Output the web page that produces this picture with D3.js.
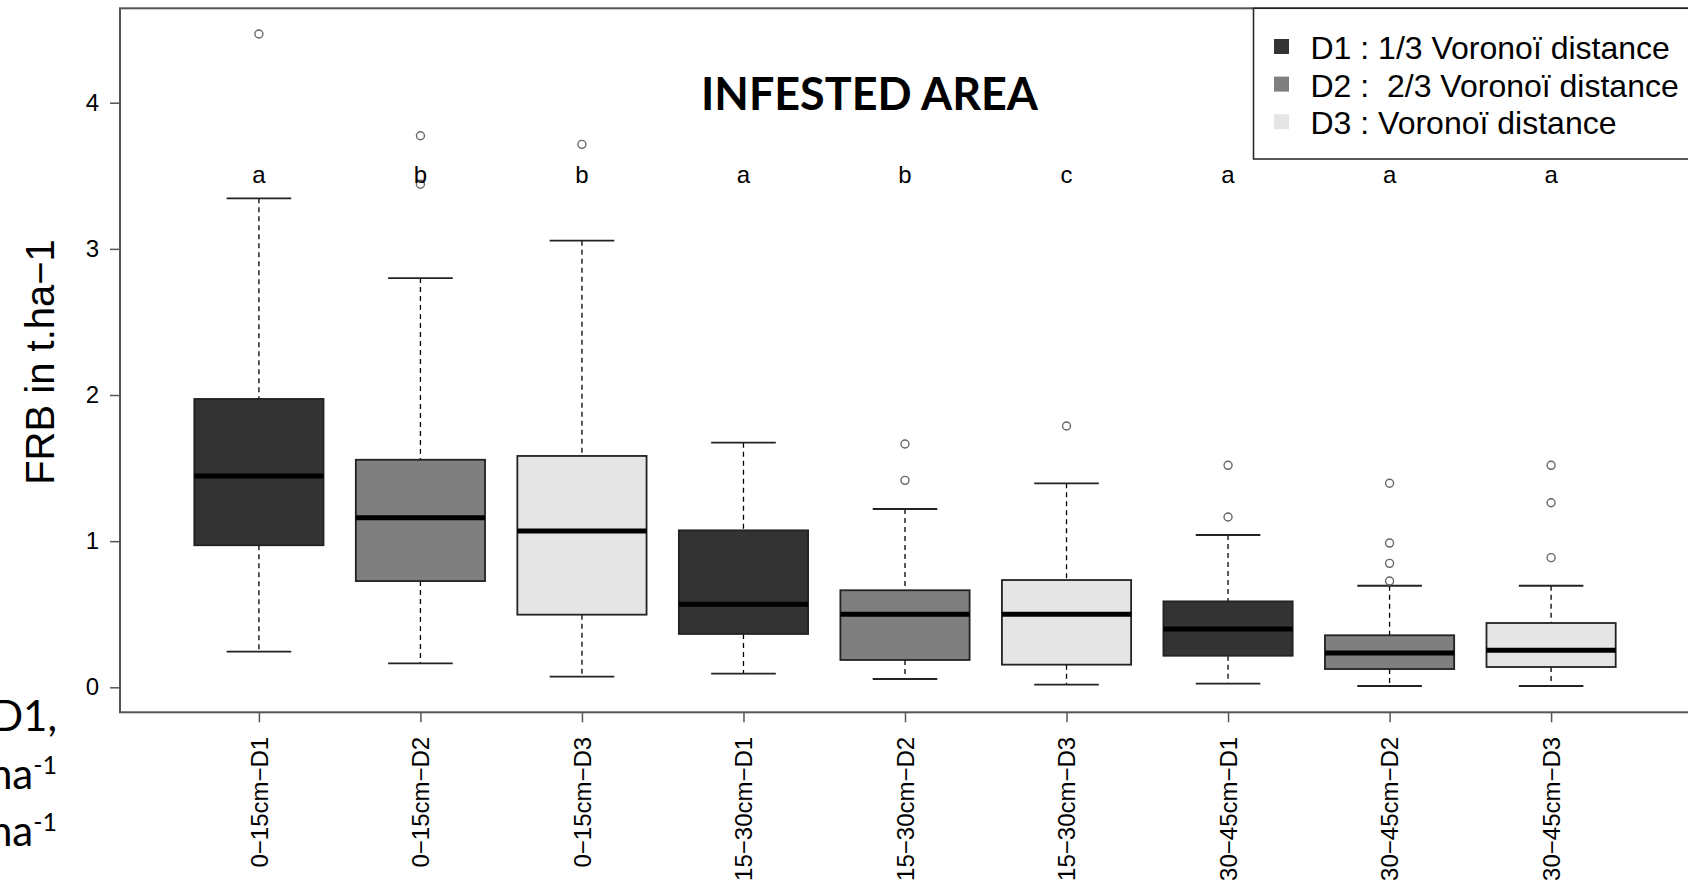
<!DOCTYPE html>
<html>
<head>
<meta charset="utf-8">
<script src="https://cdn.jsdelivr.net/npm/d3@7"></script>
<style>
  html, body { margin: 0; padding: 0; background: #fff; overflow: hidden; }
  svg { display: block; }
</style>
</head>
<body>
<svg id="chart" width="1688" height="881"></svg>
<script>
// box plot values (t.ha-1)
const categories = ["0−15cm−D1", "0−15cm−D2", "0−15cm−D3",
                    "15−30cm−D1", "15−30cm−D2", "15−30cm−D3",
                    "30−45cm−D1", "30−45cm−D2", "30−45cm−D3"];
const distance = ["D1", "D2", "D3", "D1", "D2", "D3", "D1", "D2", "D3"];
const whiskerLow  = [0.244, 0.164, 0.073, 0.093, 0.057, 0.018, 0.025, 0.009, 0.009];
const q1          = [0.972, 0.727, 0.497, 0.365, 0.187, 0.155, 0.216, 0.125, 0.139];
const medians     = [1.446, 1.161, 1.069, 0.568, 0.500, 0.500, 0.399, 0.235, 0.253];
const q3          = [1.973, 1.557, 1.583, 1.074, 0.664, 0.734, 0.588, 0.356, 0.440];
const whiskerHigh = [3.346, 2.800, 3.056, 1.674, 1.220, 1.396, 1.042, 0.695, 0.695];
const outliers = [
    [4.47], [3.774, 3.442], [3.715], [],
    [1.665, 1.416], [1.788], [1.519, 1.165],
    [1.396, 0.987, 0.848, 0.727], [1.519, 1.263, 0.887]
];
const letters = ["a", "b", "b", "a", "b", "c", "a", "a", "a"];
const yTicks = [0, 1, 2, 3, 4];

const legendLabels = ["D1 : 1/3 Voronoï distance", "D2 :  2/3 Voronoï distance", "D3 : Voronoï distance"];
const fills = {"D1": "#333333", "D2": "#7f7f7f", "D3": "#e5e5e5"};

const svg = d3.select("#chart");
const fontR = "'Liberation Sans', Arial, sans-serif";

// plot region (R style: the frame runs a little past the right edge)
const plotLeft = 120, plotRight = 1690, plotTop = 8.3, plotBottom = 712.3;

const x = d3.scaleLinear().domain([0.14, 9.86]).range([plotLeft, plotRight]);
const y = d3.scaleLinear().domain([-0.171, 4.646]).range([plotBottom, plotTop]);

const unit = x(2) - x(1);
const boxW = 0.8 * unit;
const capW = 0.4 * unit;

// text from the slide behind the chart, mostly hidden
const side = svg.append("g")
    .style("font-family", "Lato, 'Open Sans', sans-serif")
    .style("font-size", "42px")
    .attr("fill", "#000");
side.append("text").attr("x", 57).attr("y", 731).attr("text-anchor", "end").text("D1,");
[789, 846].forEach(function(by) {
    const t = side.append("text").attr("x", 57).attr("y", by).attr("text-anchor", "end");
    t.append("tspan").text("ha");
    t.append("tspan").attr("dy", -15).style("font-size", "25px").text("-1");
});

// white background of the chart image
svg.append("rect")
    .attr("x", 62).attr("y", 0)
    .attr("width", 1688 - 62).attr("height", 881)
    .attr("fill", "#fff");

// axes
const yAxis = svg.append("g")
    .attr("transform", "translate(" + plotLeft + ",0)")
    .call(d3.axisLeft(y).tickValues(yTicks).tickSize(10).tickPadding(11).tickFormat(d3.format("d")));
yAxis.select(".domain").remove();
yAxis.selectAll("line").attr("stroke", "#555").attr("stroke-width", 1.5);
yAxis.selectAll("text").style("font-family", fontR).style("font-size", "24px").attr("fill", "#000");

const xAxis = svg.append("g")
    .attr("transform", "translate(0," + plotBottom + ")")
    .call(d3.axisBottom(x).tickValues(d3.range(1, categories.length + 1)).tickSize(10)
        .tickFormat(function(d) { return categories[d - 1]; }));
xAxis.select(".domain").remove();
xAxis.selectAll("line").attr("stroke", "#555").attr("stroke-width", 1.5);
xAxis.selectAll("text")
    .attr("transform", "rotate(-90)")
    .attr("x", -24.5)
    .attr("y", 0)
    .attr("dy", "0.35em")
    .style("text-anchor", "end")
    .style("font-family", fontR)
    .style("font-size", "24px")
    .attr("fill", "#000");

// boxes
const boxes = svg.append("g").selectAll("g")
    .data(categories)
    .join("g");

boxes.append("line")
    .attr("x1", (d, i) => x(i + 1)).attr("x2", (d, i) => x(i + 1))
    .attr("y1", (d, i) => y(whiskerHigh[i])).attr("y2", (d, i) => y(q3[i]))
    .attr("stroke", "#000").attr("stroke-width", 1.3).attr("stroke-dasharray", "5,4");
boxes.append("line")
    .attr("x1", (d, i) => x(i + 1)).attr("x2", (d, i) => x(i + 1))
    .attr("y1", (d, i) => y(q1[i])).attr("y2", (d, i) => y(whiskerLow[i]))
    .attr("stroke", "#000").attr("stroke-width", 1.3).attr("stroke-dasharray", "5,4");

[whiskerHigh, whiskerLow].forEach(function(arr) {
    boxes.append("line")
        .attr("x1", (d, i) => x(i + 1) - capW / 2).attr("x2", (d, i) => x(i + 1) + capW / 2)
        .attr("y1", (d, i) => y(arr[i])).attr("y2", (d, i) => y(arr[i]))
        .attr("stroke", "#222").attr("stroke-width", 1.8);
});

boxes.append("rect")
    .attr("x", (d, i) => x(i + 1) - boxW / 2)
    .attr("width", boxW)
    .attr("y", (d, i) => y(q3[i]))
    .attr("height", (d, i) => y(q1[i]) - y(q3[i]))
    .attr("fill", (d, i) => fills[distance[i]])
    .attr("stroke", "#222").attr("stroke-width", 1.8);

boxes.append("line")
    .attr("x1", (d, i) => x(i + 1) - boxW / 2).attr("x2", (d, i) => x(i + 1) + boxW / 2)
    .attr("y1", (d, i) => y(medians[i])).attr("y2", (d, i) => y(medians[i]))
    .attr("stroke", "#000").attr("stroke-width", 5);

boxes.each(function(d, i) {
    d3.select(this).selectAll("circle")
        .data(outliers[i])
        .join("circle")
        .attr("cx", x(i + 1))
        .attr("cy", v => y(v))
        .attr("r", 4)
        .attr("fill", "none")
        .attr("stroke", "#666")
        .attr("stroke-width", 1.4);
});

// significance letters
svg.append("g").selectAll("text")
    .data(letters)
    .join("text")
    .attr("x", (d, i) => x(i + 1))
    .attr("y", 183)
    .attr("text-anchor", "middle")
    .style("font-family", fontR)
    .style("font-size", "24px")
    .text(d => d);

// frame
svg.append("rect")
    .attr("x", plotLeft).attr("y", plotTop)
    .attr("width", plotRight - plotLeft).attr("height", plotBottom - plotTop)
    .attr("fill", "none").attr("stroke", "#555").attr("stroke-width", 2);

// title
svg.append("text")
    .attr("x", 701).attr("y", 110)
    .attr("textLength", 337).attr("lengthAdjust", "spacingAndGlyphs")
    .style("font-family", "Lato, 'Open Sans', sans-serif")
    .style("font-weight", "bold")
    .style("font-size", "45px")
    .text("INFESTED AREA");

// y title
svg.append("text")
    .attr("transform", "translate(54,362) rotate(-90)")
    .attr("text-anchor", "middle")
    .style("font-family", fontR)
    .style("font-size", "40px")
    .text("FRB in t.ha−1");

// legend
const legend = svg.append("g");
legend.append("rect")
    .attr("x", 1253.5).attr("y", plotTop)
    .attr("width", 460).attr("height", 159 - plotTop)
    .attr("fill", "#fff").attr("stroke", "#222").attr("stroke-width", 1.5);
const items = legend.selectAll("g.item")
    .data(legendLabels)
    .join("g")
    .attr("class", "item")
    .attr("transform", (d, i) => "translate(1274," + (46.5 + i * 37.6) + ")");
items.append("rect")
    .attr("x", 0).attr("y", -7.5).attr("width", 15).attr("height", 15)
    .attr("fill", (d, i) => fills["D" + (i + 1)]);
items.append("text")
    .attr("x", 36.5).attr("y", 12.5)
    .attr("xml:space", "preserve")
    .style("white-space", "pre")
    .style("font-family", fontR)
    .style("font-size", "32px")
    .text(d => d);
</script>
</body>
</html>
